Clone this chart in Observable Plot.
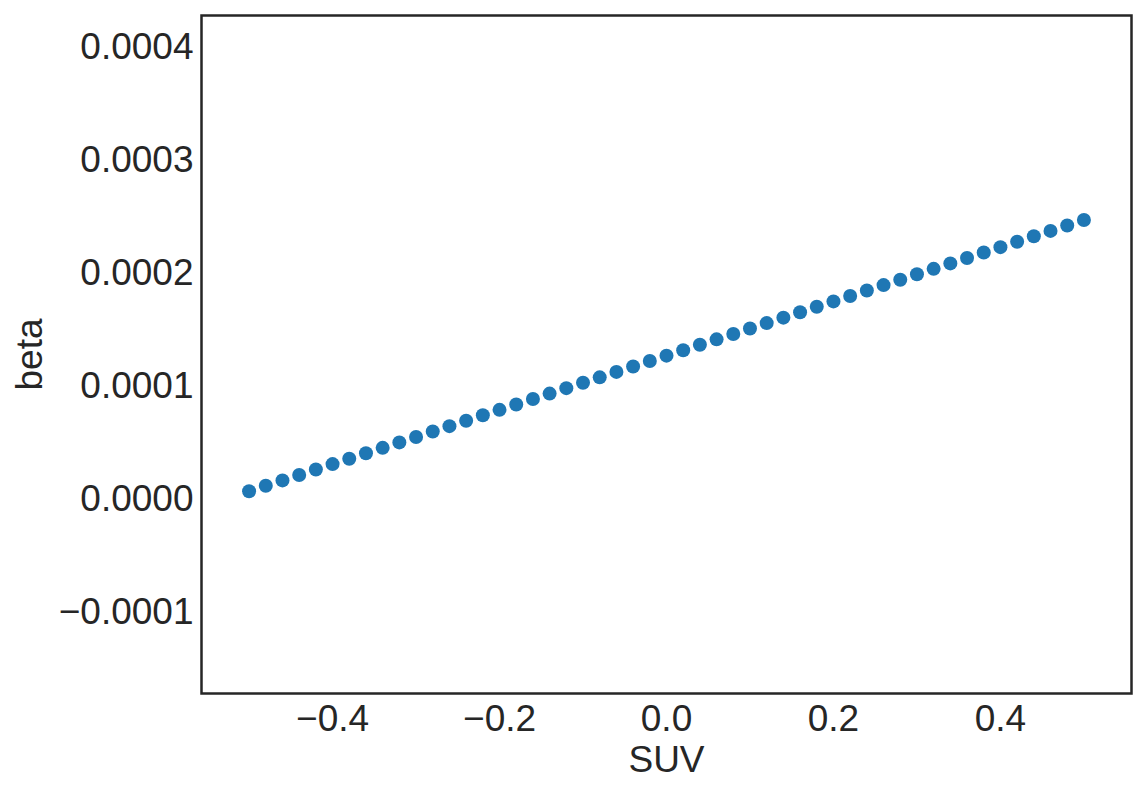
<!DOCTYPE html>
<html>
<head>
<meta charset="utf-8">
<script src="https://cdn.jsdelivr.net/npm/d3@7"></script>
<script src="https://cdn.jsdelivr.net/npm/@observablehq/plot@0.6"></script>
<style>
  html, body { margin: 0; padding: 0; background: #ffffff; }
</style>
</head>
<body>
<div id="chart"></div>
<script>
// SUV values (x)
const suv = [
  -0.50, -0.48, -0.46, -0.44, -0.42, -0.40, -0.38, -0.36, -0.34, -0.32,
  -0.30, -0.28, -0.26, -0.24, -0.22, -0.20, -0.18, -0.16, -0.14, -0.12,
  -0.10, -0.08, -0.06, -0.04, -0.02, 0.00, 0.02, 0.04, 0.06, 0.08,
  0.10, 0.12, 0.14, 0.16, 0.18, 0.20, 0.22, 0.24, 0.26, 0.28,
  0.30, 0.32, 0.34, 0.36, 0.38, 0.40, 0.42, 0.44, 0.46, 0.48, 0.50
];
// beta values (y)
const beta = [
  0.0000073, 0.0000121, 0.0000169, 0.0000217, 0.0000265, 0.0000313, 0.0000361, 0.0000409, 0.0000457, 0.0000505,
  0.0000553, 0.0000601, 0.0000649, 0.0000697, 0.0000745, 0.0000793, 0.0000841, 0.0000889, 0.0000937, 0.0000985,
  0.0001033, 0.0001081, 0.0001129, 0.0001177, 0.0001225, 0.0001273, 0.0001321, 0.0001369, 0.0001417, 0.0001465,
  0.0001513, 0.0001561, 0.0001609, 0.0001657, 0.0001705, 0.0001753, 0.0001801, 0.0001849, 0.0001897, 0.0001945,
  0.0001993, 0.0002041, 0.0002089, 0.0002137, 0.0002185, 0.0002233, 0.0002281, 0.0002329, 0.0002377, 0.0002425, 0.0002473
];
const xTicks = [-0.4, -0.2, 0.0, 0.2, 0.4];
const yTicks = [-0.0001, 0.0000, 0.0001, 0.0002, 0.0003, 0.0004];
const xLabel = "SUV";
const yLabel = "beta";

const data = suv.map((s, i) => ({suv: s, beta: beta[i]}));
const ink = "#262626";
const fs = 37;

const chart = Plot.plot({
  width: 1147,
  height: 794,
  marginLeft: 201,
  marginRight: 16,
  marginTop: 15,
  marginBottom: 101,
  style: {fontFamily: "'Liberation Sans', Arial, sans-serif", fontSize: fs + "px", color: ink, background: "#ffffff"},
  x: {domain: [-0.557, 0.557]},
  y: {domain: [-0.0001717, 0.0004283]},
  marks: [
    Plot.axisX({
      ticks: xTicks, tickFormat: d3.format(".1f"), tickSize: 0, tickPadding: 11,
      fontSize: fs, fill: ink,
      label: xLabel, labelAnchor: "center", labelArrow: "none", labelOffset: 78
    }),
    Plot.axisY({
      ticks: yTicks, tickFormat: d3.format(".4f"), tickSize: 0, tickPadding: 8,
      fontSize: fs, fill: ink,
      label: yLabel, labelAnchor: "center", labelArrow: "none", labelOffset: 186
    }),
    Plot.dot(data, {x: "suv", y: "beta", r: 7, fill: "#1f77b4", stroke: "none"}),
    Plot.frame({stroke: ink, strokeWidth: 2.5})
  ]
});
document.getElementById("chart").appendChild(chart);
</script>
</body>
</html>
